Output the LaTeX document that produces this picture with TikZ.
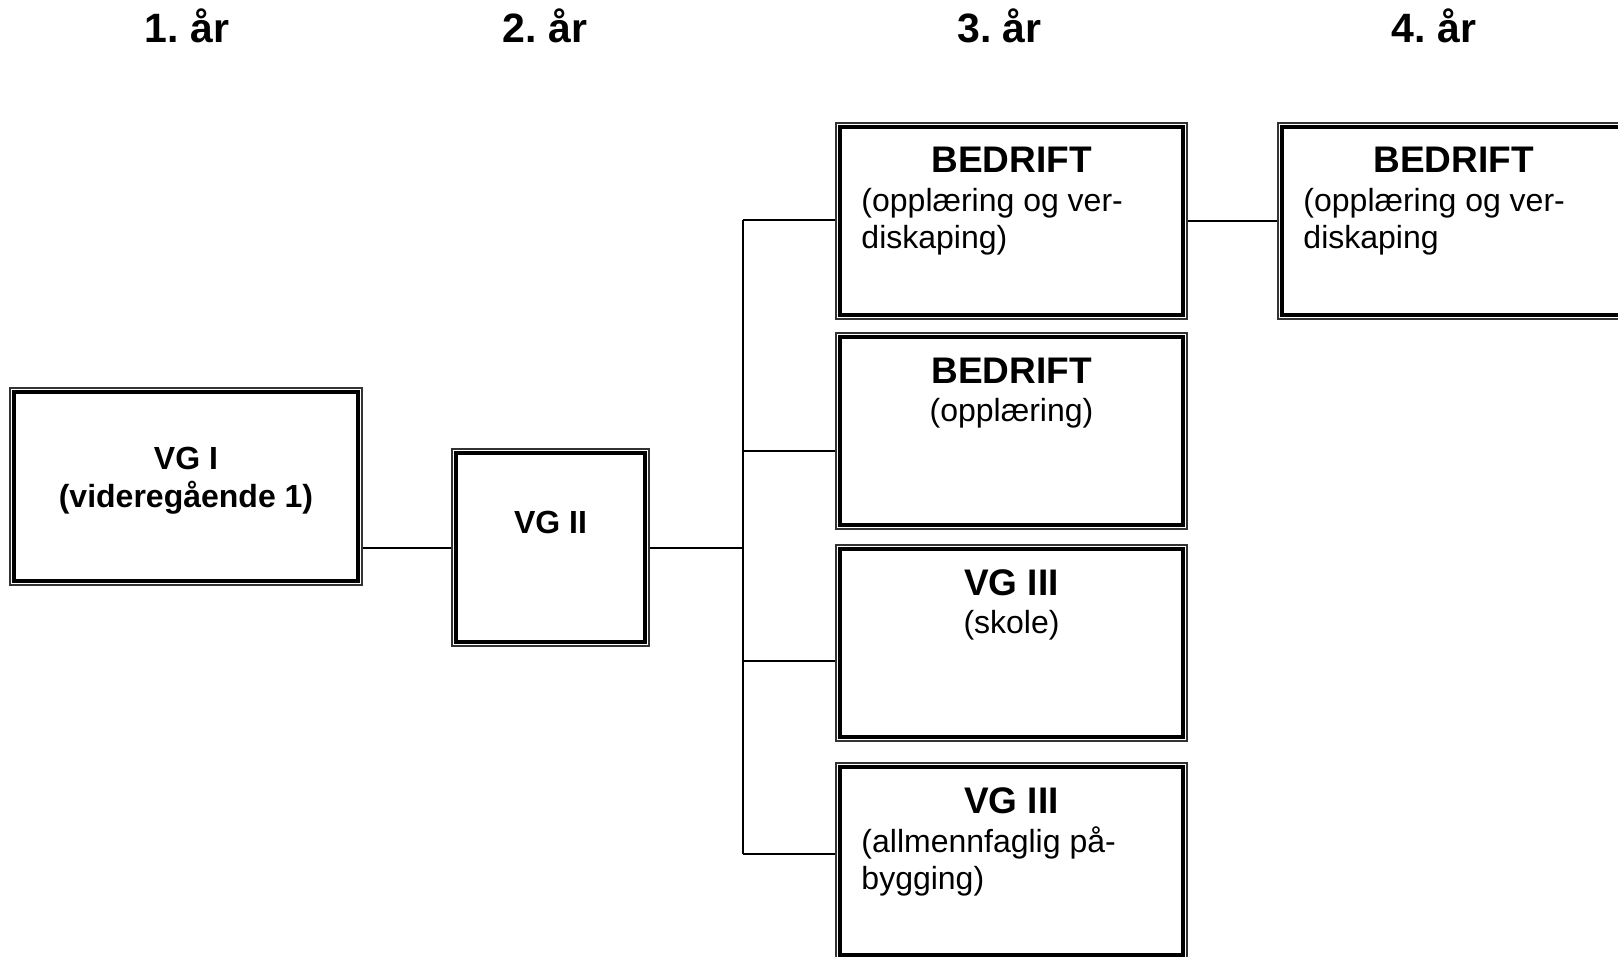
\documentclass[tikz,border=0pt]{standalone}
\usepackage{fontspec}
\setmainfont{Liberation Sans}
\frenchspacing
\usetikzlibrary{positioning, calc}
\tikzset{
  x=0.5pt, y=-0.5pt,
  boks/.style={
    draw=black!80, line width=0.6pt, inner sep=0pt,
    minimum width=175.5pt, minimum height=98pt
  },
  indre/.style={draw=black, line width=2pt},
  linje/.style={draw=black, line width=1pt},
  aar/.style={font=\fontsize{20.5}{24}\selectfont\bfseries, anchor=base},
  tittel/.style={font=\fontsize{18.5}{22}\selectfont\bfseries, anchor=base},
  vgtekst/.style={font=\fontsize{16}{18.8}\selectfont\bfseries, align=center, anchor=base},
  under/.style={font=\fontsize{16}{18.4}\selectfont, align=left, anchor=base west},
  undermidt/.style={font=\fontsize{16}{18.4}\selectfont, anchor=base}
}
\begin{document}
\begin{tikzpicture}
  \useasboundingbox (0,0) rectangle (1618,957);
  \clip (0,0) rectangle (1618,957);

  % kolonneoverskrifter
  \node[aar] (aar1) at (187,43) {1. år};
  \node[aar] (aar2) at (545,43) {2. år};
  \node[aar] (aar3) at (999.5,43) {3. år};
  \node[aar] (aar4) at (1434,43) {4. år};

  % bokser
  \node[boks, minimum width=176pt, minimum height=98.5pt] (vg1) at (186,486.5) {};
  \node[boks, minimum width=98.5pt, minimum height=98.5pt] (vg2) at (550.5,547.5) {};
  \node[boks] (bed1) at (1011.5,221) {};
  \node[boks] (bed2) at (1011.5,431) {};
  \node[boks] (vg3a) at (1011.5,643) {};
  \node[boks] (vg3b) at (1011.5,861) {};
  \node[boks] (bed4) at (1453.5,221) {};
  \foreach \n in {vg1,vg2,bed1,bed2,vg3a,vg3b,bed4}
    \draw[indre] ($(\n.south west)+(4.5,-4.5)$) rectangle ($(\n.north east)+(-4.5,4.5)$);

  % tekst (grunnlinje = siste linje)
  \node[vgtekst] (t1) at (186,507.5) {VG I\\(videregående 1)};
  \node[vgtekst] (t2) at (550.5,533) {VG II};
  \node[tittel] (tb1) at ($(bed1.north)+(0,50)$) {BEDRIFT};
  \node[under] (ub1) at ($(bed1.north west)+(19,126)$) {(opplæring og ver-\\diskaping)};
  \node[tittel] (tb2) at ($(bed2.north)+(0,51)$) {BEDRIFT};
  \node[undermidt] (ub2) at ($(bed2.north)+(0,89)$) {(opplæring)};
  \node[tittel] (tv3a) at ($(vg3a.north)+(0,51)$) {VG III};
  \node[undermidt] (uv3a) at ($(vg3a.north)+(0,89)$) {(skole)};
  \node[tittel] (tv3b) at ($(vg3b.north)+(0,51)$) {VG III};
  \node[under] (uv3b) at ($(vg3b.north west)+(19,127)$) {(allmennfaglig på-\\bygging)};
  \node[tittel] (tb4) at ($(bed4.north)+(0,50)$) {BEDRIFT};
  \node[under] (ub4) at ($(bed4.north west)+(19,126)$) {(opplæring og ver-\\diskaping};

  % forbindelser
  \coordinate (j0) at (743,547.5);
  \coordinate (j1) at (743,220);
  \coordinate (j2) at (743,451);
  \coordinate (j3) at (743,661);
  \coordinate (j4) at (743,854);
  \draw[linje] (vg2.west) -- (vg2.west -| vg1.east);
  \draw[linje] (vg2.east) -- (j0);
  \draw[linje] (j1) -- (j4);
  \draw[linje] (j1) -- (j1 -| bed1.west);
  \draw[linje] (j2) -- (j2 -| bed2.west);
  \draw[linje] (j3) -- (j3 -| vg3a.west);
  \draw[linje] (j4) -- (j4 -| vg3b.west);
  \draw[linje] (bed1.east) -- (bed4.west);
\end{tikzpicture}
\end{document}
